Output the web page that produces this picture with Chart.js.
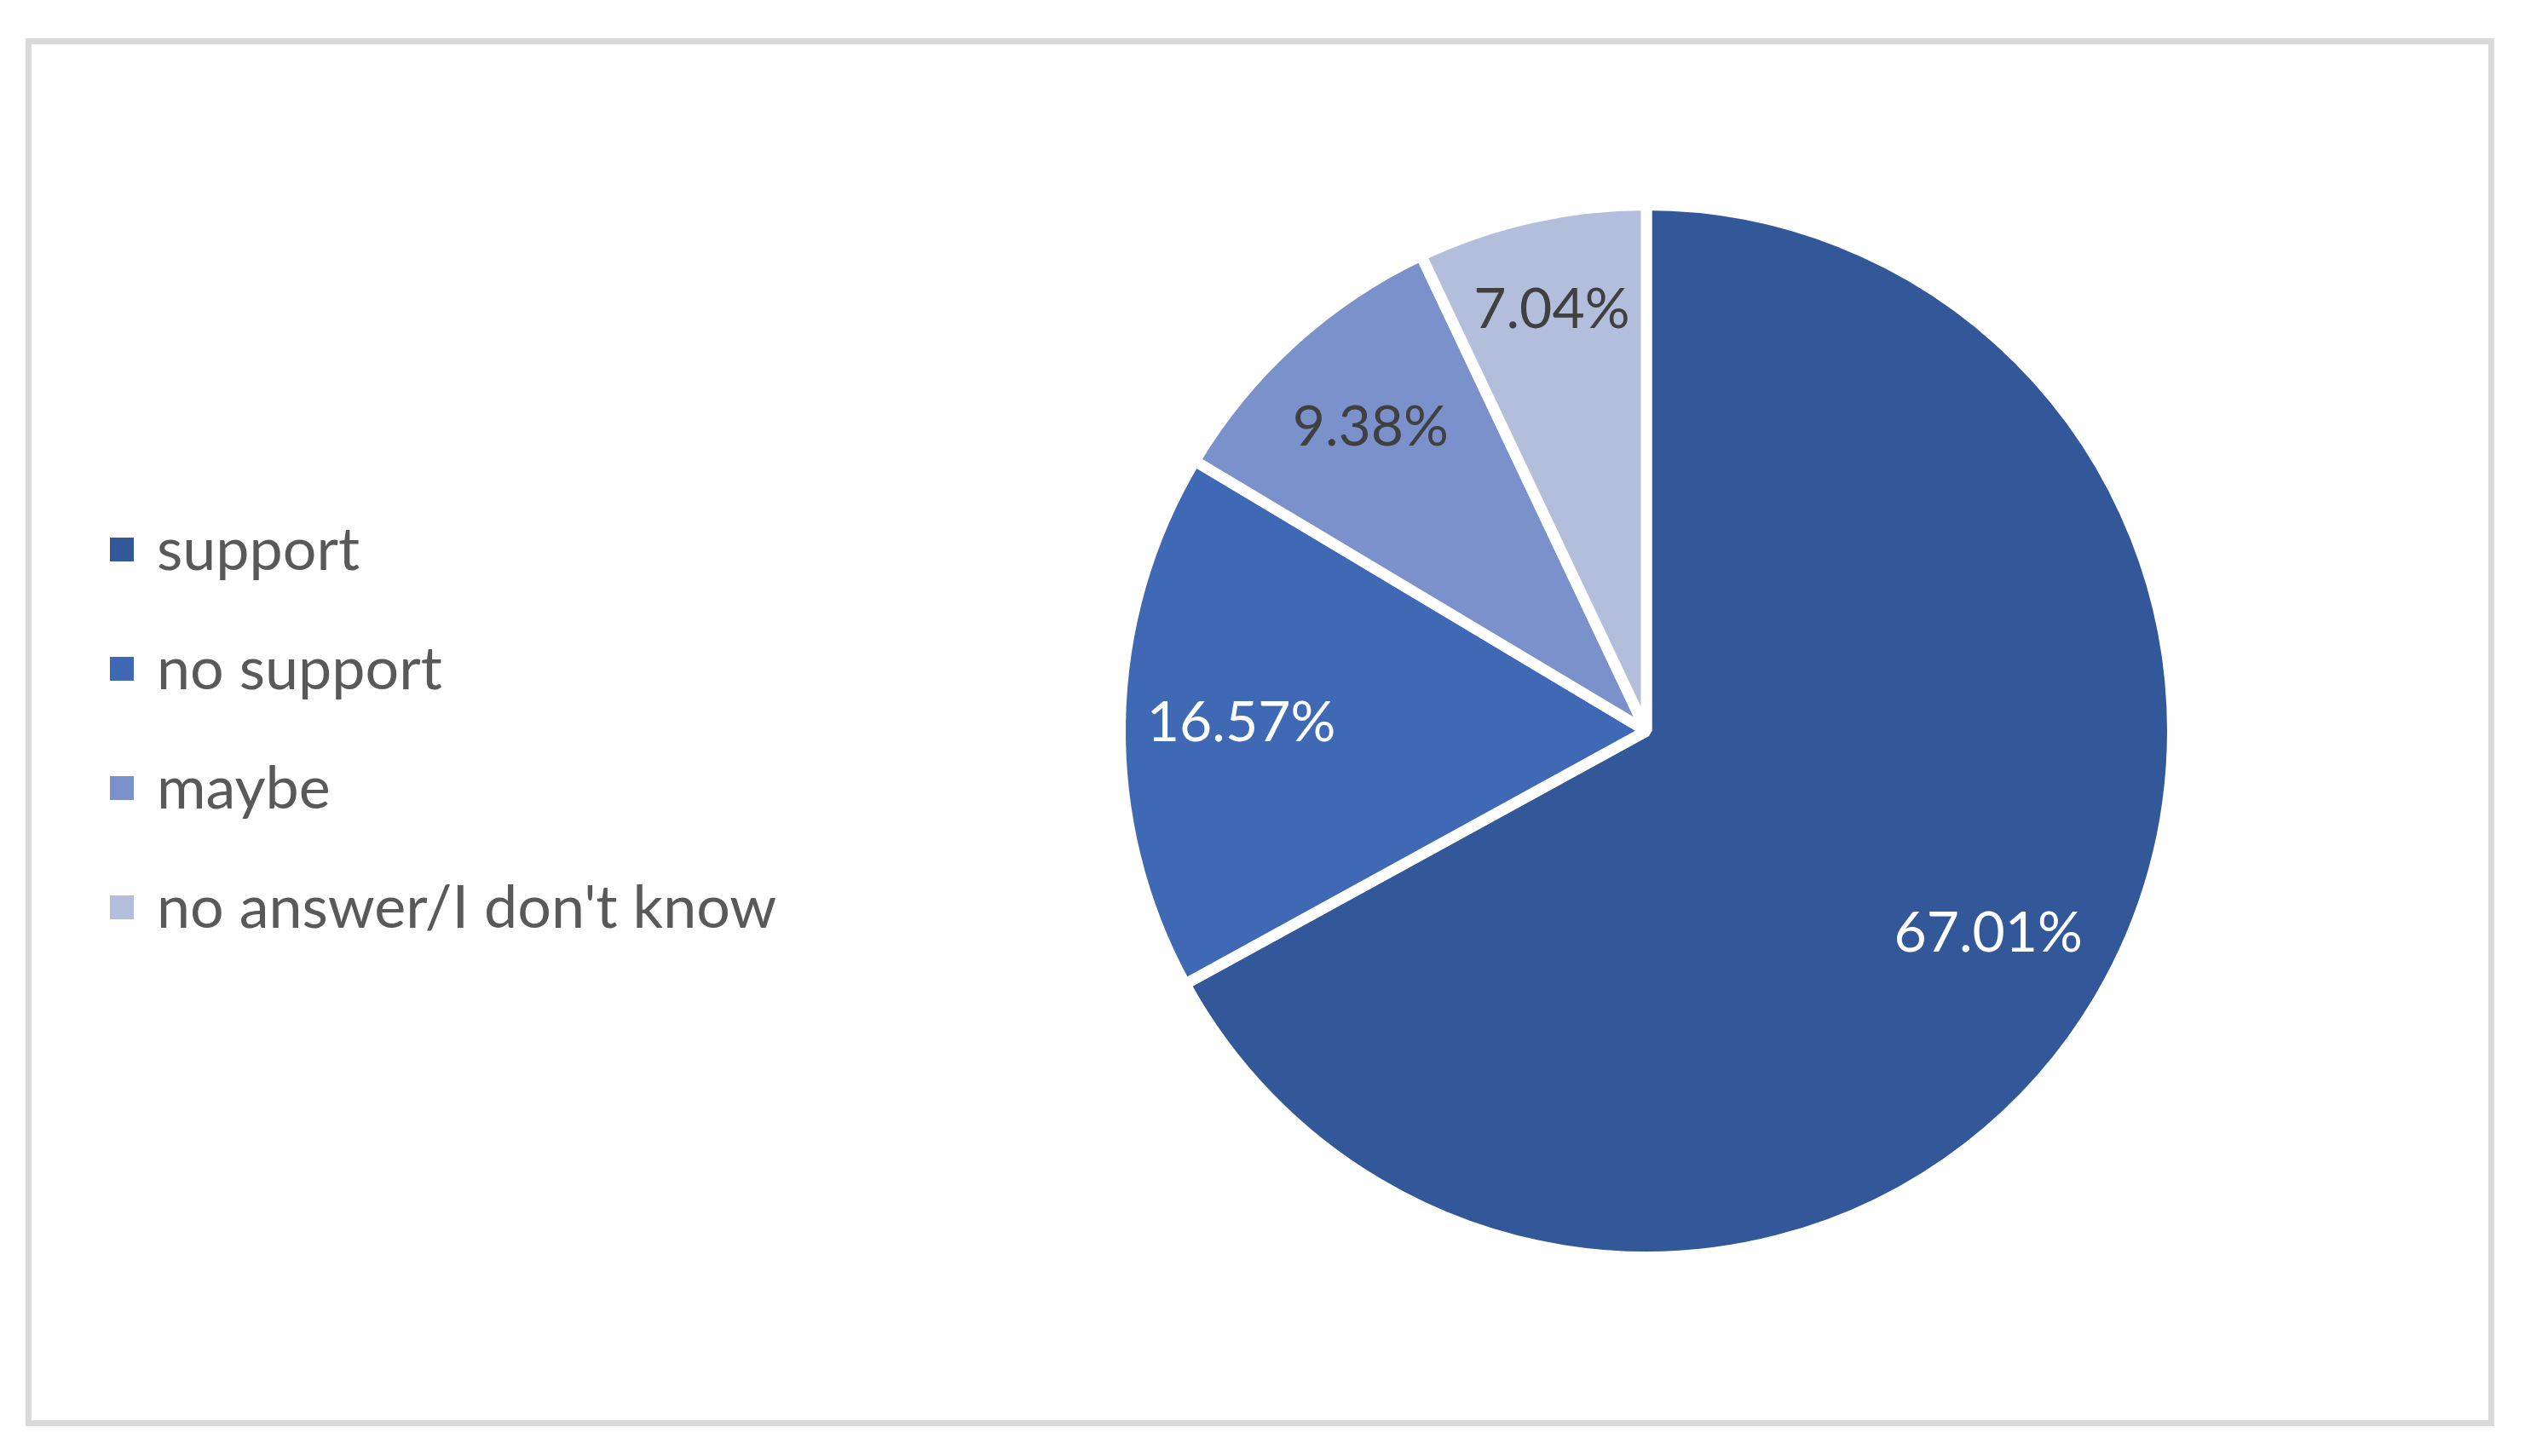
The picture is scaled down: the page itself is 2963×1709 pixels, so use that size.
<!DOCTYPE html>
<html>
<head>
<meta charset="utf-8">
<script src="https://cdn.jsdelivr.net/npm/chart.js@4.4.1/dist/chart.umd.min.js"></script>
<style>
    html, body { margin: 0; padding: 0; background: #fff; }
    body { width: 2963px; height: 1709px; position: relative; overflow: hidden; }
    #frame {
        position: absolute; left: 30px; top: 45px; width: 2883px; height: 1615px;
        border: 7px solid #d9d9d9;
    }
    #chartWrap { position: absolute; left: 0; top: 0; width: 2963px; height: 1709px; }
    #legend { position: absolute; left: 129px; top: 572px; font-family: Lato, sans-serif; }
    .item { display: flex; align-items: center; height: 140px; font-size: 70px; color: #595959; }
    .box { width: 28px; height: 28px; margin-right: 27px; margin-top: 6px; }
</style>
</head>
<body>
<div id="frame"></div>
<div id="chartWrap"><canvas id="pieChart" width="2963" height="1709"></canvas></div>
<div id="legend"></div>

<script>
// data
const categories = ['support', 'no support', 'maybe', "no answer/I don't know"];
const shares = [67.01, 16.57, 9.38, 7.04];
const sliceColors = ['#335899', '#3f69b4', '#7a91cc', '#b3bedd'];
const labelColors = ['#ffffff', '#ffffff', '#404040', '#404040'];
// how far out along the slice the label sits (fraction of radius)
const labelDepth = [0.755, 0.77, 0.78, 0.82];

const sliceLabels = {
    id: 'sliceLabels',
    afterDatasetsDraw(chart) {
        const ctx = chart.ctx;
        const meta = chart.getDatasetMeta(0);
        ctx.save();
        ctx.font = '66px Lato, sans-serif';
        ctx.textAlign = 'center';
        ctx.textBaseline = 'middle';
        meta.data.forEach((arc, i) => {
            const p = arc.getProps(['x', 'y', 'startAngle', 'endAngle', 'outerRadius'], true);
            const mid = (p.startAngle + p.endAngle) / 2;
            const r = p.outerRadius * labelDepth[i];
            ctx.fillStyle = labelColors[i];
            ctx.fillText(shares[i].toFixed(2) + '%', p.x + Math.cos(mid) * r, p.y + Math.sin(mid) * r);
        });
        ctx.restore();
    }
};

function buildLegend() {
    const el = document.getElementById('legend');
    categories.forEach((name, i) => {
        const row = document.createElement('div');
        row.className = 'item';
        const box = document.createElement('div');
        box.className = 'box';
        box.style.background = sliceColors[i];
        const txt = document.createElement('span');
        txt.textContent = name;
        row.appendChild(box);
        row.appendChild(txt);
        el.appendChild(row);
    });
}

document.addEventListener('DOMContentLoaded', function() {
    buildLegend();
    new Chart(document.getElementById('pieChart'), {
        type: 'pie',
        data: {
            labels: categories,
            datasets: [{
                data: shares,
                backgroundColor: sliceColors,
                borderColor: '#ffffff',
                borderWidth: 13
            }]
        },
        options: {
            responsive: false,
            animation: false,
            layout: { padding: { left: 1308, top: 234, right: 407, bottom: 227 } },
            plugins: {
                legend: { display: false },
                tooltip: { enabled: false }
            }
        },
        plugins: [sliceLabels]
    });
});
</script>
</body>
</html>
